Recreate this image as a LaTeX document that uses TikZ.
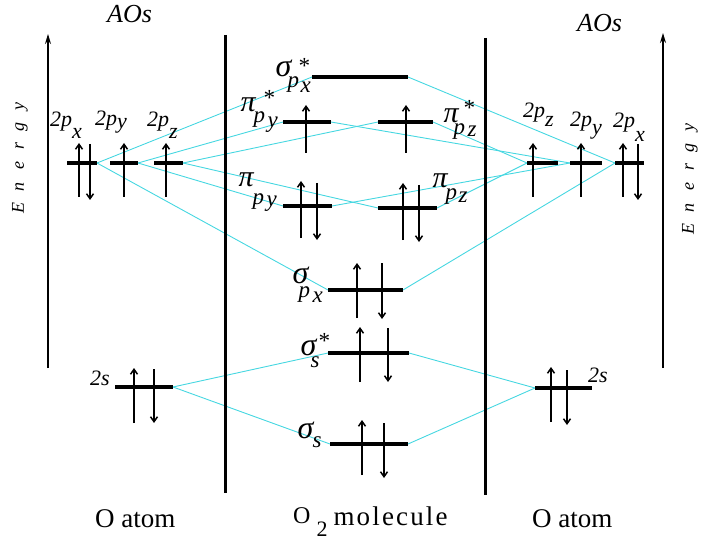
\documentclass[tikz,border=0pt]{standalone}
\usepackage{fontspec}
\setmainfont{Liberation Serif}
\usetikzlibrary{arrows.meta}
\definecolor{conncol}{RGB}{70,215,225}
\newcommand{\dn}[2]{\raisebox{-#1}{#2}}
\newcommand{\place}[3]{\rlap{\kern#1\raisebox{#2}{#3}}}
\newcommand{\gs}{{\fontsize{32}{32}\selectfont σ}}
\newcommand{\gp}{{\fontsize{30}{30}\selectfont π}}
\begin{document}
\begin{tikzpicture}[x=1pt,y=-1pt,
  level/.style={line width=4pt},
  conn/.style={draw=conncol, line width=0.9pt},
  divider/.style={line width=3pt},
  energyax/.style={line width=1.3pt, -{Stealth[length=10pt,width=6pt]}},
  spin/.style={line width=1.5pt, -{Straight Barb[length=5pt,width=7pt]}},
  lab/.style={font=\fontsize{22}{24}\selectfont\itshape, inner sep=0pt, anchor=base west},
  glab/.style={font=\fontsize{23}{26}\selectfont\itshape, inner sep=0pt, anchor=base west},
  bot/.style={font=\fontsize{27}{30}\selectfont, inner sep=0pt, anchor=base west},
  enl/.style={font=\fontsize{18}{20}\selectfont\itshape, inner sep=0pt, rotate=90}
]
\useasboundingbox (0,0) rectangle (720,540);

% level end points
\coordinate (a2pxL) at (67,163);  \coordinate (a2pxR) at (97,163);
\coordinate (a2pyL) at (110,163); \coordinate (a2pyR) at (138,163);
\coordinate (a2pzL) at (154,163); \coordinate (a2pzR) at (183,163);
\coordinate (a2sL) at (115,387);  \coordinate (a2sR) at (173,387);
\coordinate (b2pzL) at (527,163); \coordinate (b2pzR) at (558,163);
\coordinate (b2pyL) at (570,163); \coordinate (b2pyR) at (602,163);
\coordinate (b2pxL) at (615,163); \coordinate (b2pxR) at (644,163);
\coordinate (b2sL) at (535,388);  \coordinate (b2sR) at (592,388);
\coordinate (sxsL) at (312,77);   \coordinate (sxsR) at (408,77);
\coordinate (pysL) at (283,122);  \coordinate (pysR) at (331,122);
\coordinate (pzsL) at (378,122);  \coordinate (pzsR) at (433,122);
\coordinate (pyL) at (283,206);   \coordinate (pyR) at (332,206);
\coordinate (pzL) at (378,208);   \coordinate (pzR) at (437,208);
\coordinate (sxL) at (328,290);   \coordinate (sxR) at (403,290);
\coordinate (sssL) at (328,353);  \coordinate (sssR) at (409,353);
\coordinate (ssL) at (330,444);   \coordinate (ssR) at (408,444);

% connectors
\draw[conn] (a2pxR) -- (sxsL);
\draw[conn] (a2pxR) -- (sxL);
\draw[conn] (a2pyR) -- (pysL);
\draw[conn] (a2pyR) -- (pyL);
\draw[conn] (a2pzR) -- (pzsL);
\draw[conn] (a2pzR) -- (pzL);
\draw[conn] (b2pxL) -- (sxsR);
\draw[conn] (b2pxL) -- (sxR);
\draw[conn] (b2pyL) -- (pysR);
\draw[conn] (b2pyL) -- (pyR);
\draw[conn] (b2pzL) -- (pzsR);
\draw[conn] (b2pzL) -- (pzR);
\draw[conn] (a2sR) -- (sssL);
\draw[conn] (a2sR) -- (ssL);
\draw[conn] (b2sL) -- (sssR);
\draw[conn] (b2sL) -- (ssR);

% dividers and energy axes
\coordinate (d1t) at (225,35); \coordinate (d1b) at (225,493);
\coordinate (d2t) at (485,38); \coordinate (d2b) at (485,495);
\draw[divider] (d1t) -- (d1b);
\draw[divider] (d2t) -- (d2b);
\coordinate (e1b) at (48,368); \coordinate (e1t) at (48,34);
\coordinate (e2b) at (663,368); \coordinate (e2t) at (663,33);
\draw[energyax] (e1b) -- (e1t);
\draw[energyax] (e2b) -- (e2t);

% levels
\foreach \l in {a2px,a2py,a2pz,a2s,b2pz,b2py,b2px,b2s,sxs,pys,pzs,py,pz,sx,sss,ss}
  \draw[level] (\l L) -- (\l R);

% spins
\draw[spin] (79,197) -- (79,143);  \draw[spin] (90,144) -- (90,200);
\draw[spin] (124,197) -- (124,143);
\draw[spin] (166,197) -- (166,143);
\draw[spin] (533,197) -- (533,143);
\draw[spin] (581,197) -- (581,143);
\draw[spin] (623,197) -- (623,143); \draw[spin] (638,144) -- (638,200);
\draw[spin] (134,423) -- (134,368); \draw[spin] (154,369) -- (154,423);
\draw[spin] (551,422) -- (551,367); \draw[spin] (567,370) -- (567,425);
\draw[spin] (306,153) -- (306,105);
\draw[spin] (406,153) -- (406,105);
\draw[spin] (301,238) -- (301,181); \draw[spin] (317,183) -- (317,240);
\draw[spin] (403,240) -- (403,183); \draw[spin] (419,185) -- (419,242);
\draw[spin] (357,318) -- (357,263); \draw[spin] (382,263) -- (382,319);
\draw[spin] (360,382) -- (360,327); \draw[spin] (388,328) -- (388,382);
\draw[spin] (362,475) -- (362,420); \draw[spin] (384,423) -- (384,478);

% AO labels
\node[lab, font=\fontsize{26}{28}\selectfont\itshape] (aosL) at (107,23) {AOs};
\node[lab, font=\fontsize{26}{28}\selectfont\itshape] (aosR) at (577,32) {AOs};
\node[lab] (t2pxL) at (50,127) {2p\dn{12pt}{x}};
\node[lab] (t2pyL) at (95,126) {2p\dn{3pt}{y}};
\node[lab] (t2pzL) at (147,127) {2p\dn{12pt}{z}};
\node[lab] (t2pzR) at (523,118) {2p\dn{9pt}{z}};
\node[lab] (t2pyR) at (570,127) {2p\dn{8pt}{y}};
\node[lab] (t2pxR) at (613,128) {2p\dn{14pt}{x}};
\node[lab] (t2sL) at (90,385) {2s};
\node[lab] (t2sR) at (588,382) {2s};

% MO labels
\node[glab] (tsxs) at (275,77) {\place{0pt}{0pt}{\gs}\place{22pt}{3pt}{*}\place{12pt}{-11pt}{p}\place{25pt}{-16pt}{x}\hspace{37pt}};
\node[glab] (tpys) at (240,112) {\place{0pt}{0pt}{\gp}\place{22pt}{6pt}{*}\place{13pt}{-11pt}{p}\place{27pt}{-16pt}{y}\hspace{42pt}};
\node[glab] (tpzs) at (443,123) {\place{0pt}{0pt}{\gp}\place{19pt}{7pt}{*}\place{10pt}{-12pt}{p}\place{24pt}{-14pt}{z}\hspace{38pt}};
\node[glab] (tpy) at (238,187) {\place{0pt}{0pt}{\gp}\place{14pt}{-18pt}{p}\place{28pt}{-20pt}{y}\hspace{42pt}};
\node[glab] (tpz) at (432,188) {\place{0pt}{0pt}{\gp}\place{13pt}{-12pt}{p}\place{26pt}{-15pt}{z}\hspace{38pt}};
\node[glab] (tsx) at (292,283) {\place{0pt}{0pt}{\gs}\place{6pt}{-14pt}{p}\place{20pt}{-19pt}{x}\hspace{34pt}};
\node[glab] (tsss) at (300,355) {\place{0pt}{0pt}{\gs}\place{17pt}{7pt}{*}\place{10pt}{-12pt}{s}\hspace{28pt}};
\node[glab] (tss) at (297,438) {\place{0pt}{0pt}{\gs}\place{15pt}{-9pt}{s}\hspace{26pt}};

% energy labels
\node[enl] (enL) at (20,158) {\spaceskip=12pt E n e r g y};
\node[enl] (enR) at (690,179) {\spaceskip=12pt E n e r g y};

% bottom labels
\node[bot] (oatL) at (95,527) {O atom};
\node[bot] (oatR) at (532,527) {O atom};
\node[bot] (o2m) at (293,523) {{\fontsize{24}{26}\selectfont O}\kern6pt\dn{13pt}{\fontsize{22}{24}\selectfont 2}\kern6pt\dn{2pt}{\addfontfeature{LetterSpace=8}molecule}};
\end{tikzpicture}
\end{document}
